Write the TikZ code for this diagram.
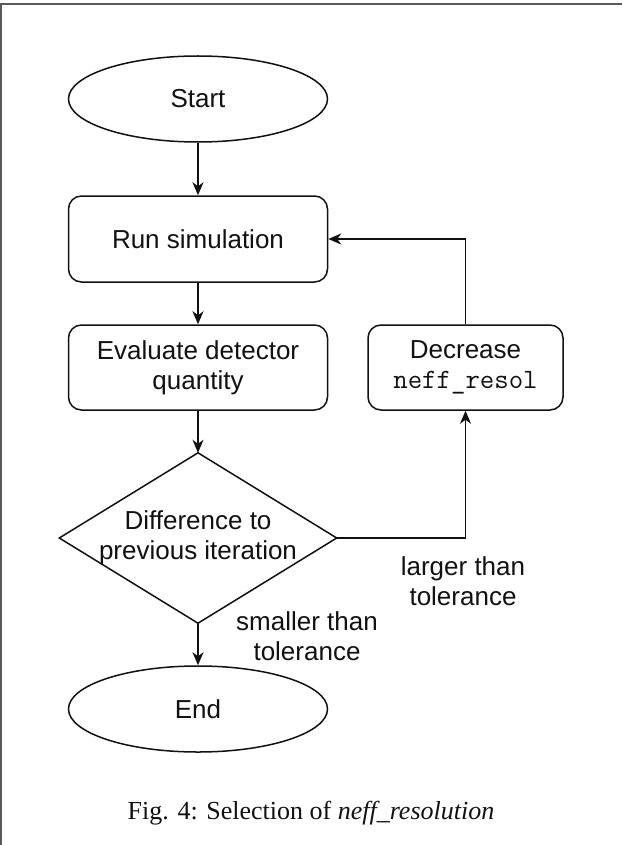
\documentclass[tikz,border=0pt]{standalone}
\usepackage{fontspec}
\setmainfont{Liberation Serif}
\newfontfamily\flowfont{Liberation Sans}
\newfontfamily\codefont{Latin Modern Mono}
\usetikzlibrary{arrows.meta,shapes.geometric}

\definecolor{ink}{HTML}{111111}
\definecolor{framegray}{HTML}{5A5A5A}

\tikzset{
  flowtext/.style={font=\flowfont\fontsize{26}{30}\selectfont, text=ink, align=center},
  terminal/.style={flowtext, ellipse, draw=ink, line width=1.5pt,
                   minimum width=259pt, minimum height=86pt, inner sep=0pt},
  process/.style={flowtext, rectangle, rounded corners=13pt, draw=ink, line width=1.5pt,
                  minimum width=259pt, minimum height=85pt, inner sep=0pt},
  decisionbox/.style={flowtext, rectangle, minimum width=277pt, minimum height=170pt, inner sep=0pt},
  edgelabel/.style={flowtext, inner sep=0pt},
  link/.style={draw=ink, line width=1.5pt, -{Stealth[length=13pt,width=11pt,inset=4pt]}},
  plainlink/.style={draw=ink, line width=1.5pt},
}

\begin{document}
\begin{tikzpicture}[x=1pt,y=-1pt]
  \useasboundingbox (0,0) rectangle (622,845);

  % frame lines along the top and left edges
  \draw[framegray, line width=2pt] (1,845) -- (1,4) -- (622,4);

  % flow nodes
  \node[terminal] (start) at (198,99) {Start};
  \node[process, minimum height=86pt] (run) at (198,239) {Run simulation};
  \node[process]  (eval)  at (198,367.5) {Evaluate detector\\quantity};
  \node[process, minimum width=195pt] (dec) at (465.5,367.5)
    {Decrease\\{\codefont\fontsize{28}{30}\selectfont neff\_resol}};
  \node[decisionbox] (diff) at (198,538) {Difference to\\previous iteration};
  \draw[plainlink, line join=miter] (diff.north) -- (diff.east) -- (diff.south) -- (diff.west) -- cycle;
  \node[terminal] (end) at (198,709) {End};

  % branch labels
  \node[edgelabel] (larger)  at (463,581) {larger than\\tolerance};
  \node[edgelabel] (smaller) at (307,636) {smaller than\\tolerance};

  % connectors
  \draw[link] (start) -- (run);
  \draw[link] (run) -- (eval);
  \draw[link] (eval) -- (diff.north);
  \draw[link] (diff.south) -- (end);
  \draw[link] (diff.east) -- (dec.south |- diff.east) -- (dec.south);
  \draw[link] (dec.north) |- (run.east);

  % caption
  \node[font=\fontsize{26}{30}\selectfont, text=ink] (caption) at (311,813)
    {Fig. 4: Selection of \textit{neff\_resolution}};
\end{tikzpicture}
\end{document}
